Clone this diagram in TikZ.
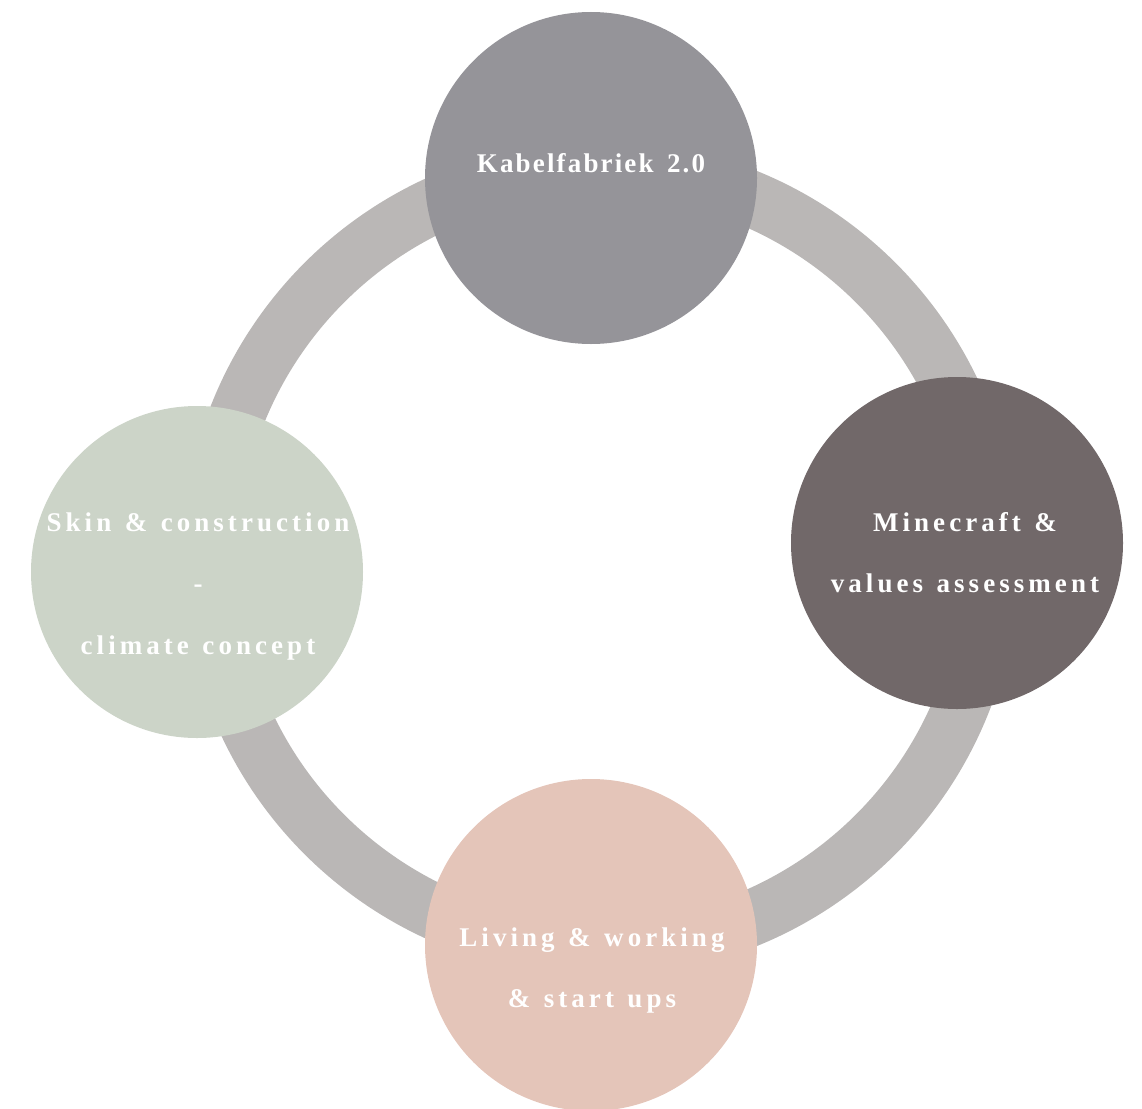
\documentclass[tikz,border=0pt]{standalone}
\usepackage{fontspec}
\setmainfont{Liberation Serif}
\newfontfamily\lblfont[LetterSpace=15,WordSpace=1.25]{Liberation Serif}
\newfontfamily\lbltopfont[LetterSpace=8,WordSpace=1.5]{Liberation Serif}
\definecolor{ringgray}{HTML}{BAB7B6}
\definecolor{topgray}{HTML}{959499}
\definecolor{rightbrown}{HTML}{716869}
\definecolor{leftgreen}{HTML}{CCD4C8}
\definecolor{bottompink}{HTML}{E4C5B9}
\tikzset{
  bubble/.style={circle, draw=none, minimum size=332pt, inner sep=0pt},
  lbl/.style={text=white, font=\fontsize{27}{30}\selectfont\bfseries\lblfont, inner sep=0pt, anchor=base},
  lbltop/.style={text=white, font=\fontsize{27}{30}\selectfont\bfseries\lbltopfont, inner sep=0pt, anchor=base}
}
\begin{document}
\begin{tikzpicture}[x=1pt,y=-1pt]
\useasboundingbox (0,0) rectangle (1142,1108);
\coordinate (ringc) at (600,558.5);
\draw[ringgray, line width=56pt] (ringc) circle[radius=390pt];
\node[bubble, fill=topgray] (top) at (591,178) {};
\node[bubble, fill=rightbrown] (right) at (957,543) {};
\node[bubble, fill=leftgreen] (left) at (197,572) {};
\node[bubble, fill=bottompink] (bottom) at (591,945) {};
\node[lbltop] (t1) at (591,172) {Kabelfabriek 2.0};
\node[lbl] (r1) at (965,531) {Minecraft \&};
\node[lbl] (r2) at (965,592) {values assessment};
\node[lbl] (l1) at (198,531) {Skin \& construction};
\node[lbl] (l2) at (198,592) {-};
\node[lbl] (l3) at (198,654) {climate concept};
\node[lbl] (b1) at (592,946) {Living \& working};
\node[lbl] (b2) at (592,1007) {\& start ups};
\end{tikzpicture}
\end{document}
